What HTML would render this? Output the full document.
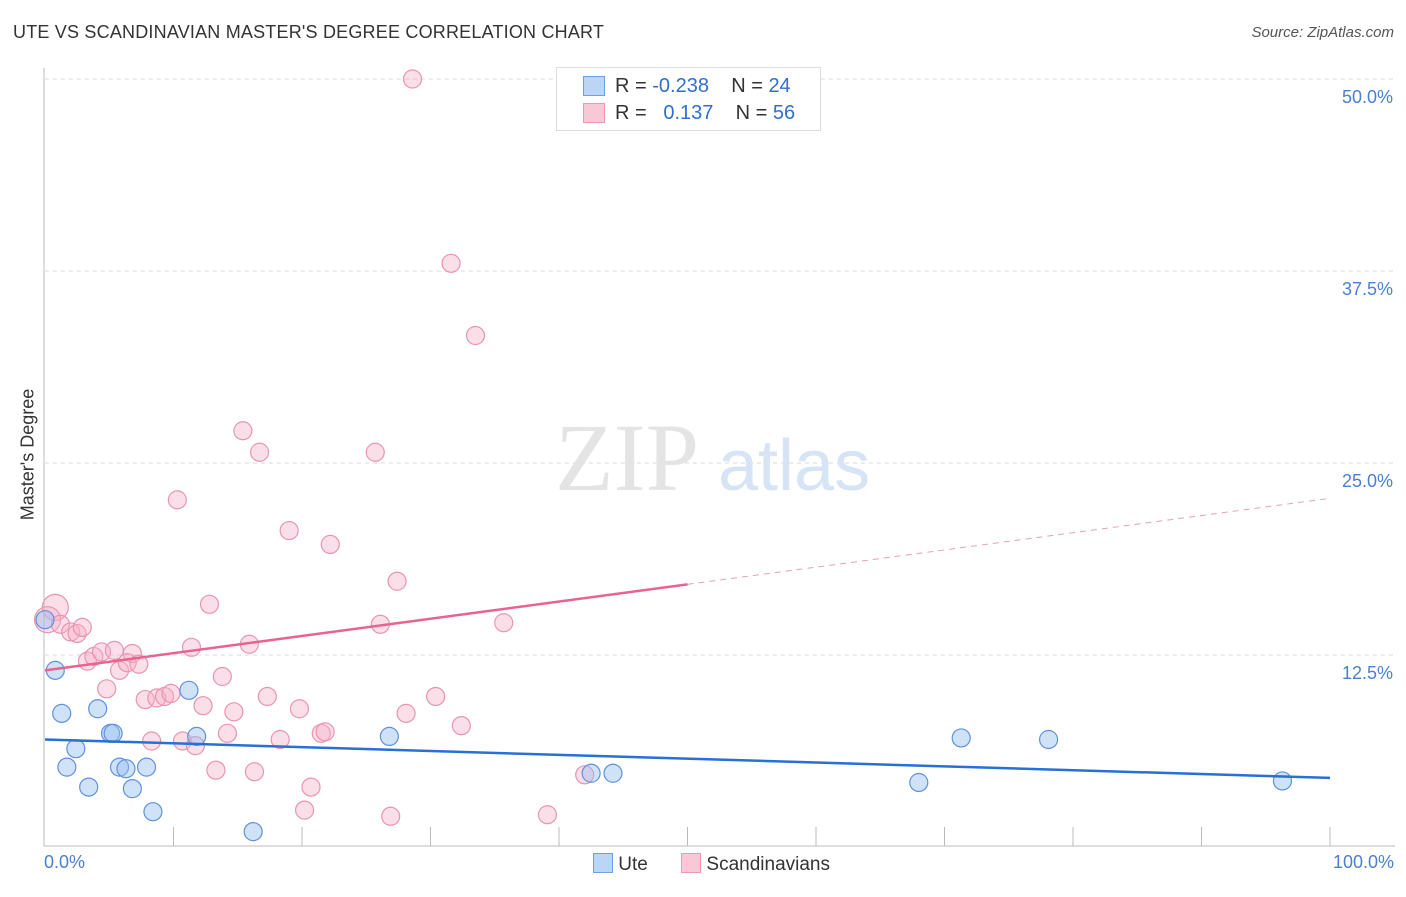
<!DOCTYPE html>
<html><head><meta charset="utf-8"><style>
body{margin:0;background:#fff;font-family:"Liberation Sans",sans-serif;}
</style></head><body>
<svg id="c" width="1406" height="892" xmlns="http://www.w3.org/2000/svg" font-family="Liberation Sans, sans-serif"></svg>
<script>
const uteX=[0,0.8,1.3,4.1,2.4,1.7,3.4,5.1,5.3,5.8,6.3,7.9,6.8,8.4,11.2,11.8,16.2,26.8,42.5,44.2,68.0,71.3,78.1,96.3];
const uteY=[14.8,11.5,8.7,9.0,6.4,5.2,3.9,7.4,7.4,5.2,5.1,5.2,3.8,2.3,10.2,7.2,1.0,7.2,4.8,4.8,4.2,7.1,7.0,4.3];
const scX=[28.6,31.6,33.5,15.4,16.7,25.7,10.3,19.0,22.2,27.4,0.8,12.8,0.2,1.2,2.0,2.5,2.9,26.1,35.7,3.3,3.8,4.4,5.4,6.8,5.8,6.4,7.3,11.4,15.9,4.8,13.8,7.8,8.7,9.3,9.8,17.3,12.3,14.7,19.8,30.4,28.1,32.4,8.3,10.7,11.7,14.2,18.3,21.5,21.8,13.3,16.3,20.7,20.2,26.9,39.1,42.0];
const scY=[50.0,38.0,33.3,27.1,25.7,25.7,22.6,20.6,19.7,17.3,15.6,15.8,14.8,14.5,14.0,13.9,14.3,14.5,14.6,12.1,12.4,12.7,12.8,12.6,11.5,12.0,11.9,13.0,13.2,10.3,11.1,9.6,9.7,9.8,10.0,9.8,9.2,8.8,9.0,9.8,8.7,7.9,6.9,6.9,6.6,7.4,7.0,7.4,7.5,5.0,4.9,3.9,2.4,2.0,2.1,4.7];
const yTicks=[12.5,25.0,37.5,50.0];
const uteTrend=[7.0,4.5];   // y at x=0 and x=100
const scTrend=[11.5,22.7];
const X=v=>45+v*12.85, Y=v=>847-v*15.36;
const svg=document.getElementById('c');
const NS='http://www.w3.org/2000/svg';
function mk(t,a,p){const e=document.createElementNS(NS,t);for(const k in a)e.setAttribute(k,a[k]);(p||svg).appendChild(e);return e;}
yTicks.forEach(t=>{
 const g=mk('line',{x1:45,x2:1395,y1:Y(t),y2:Y(t),stroke:'#d8d8d8','stroke-dasharray':'4,4'});
 
 
 const l=mk('text',{x:1393,y:Y(t)+24,'text-anchor':'end','font-size':18,fill:'#4a7fd4'});l.textContent=t.toFixed(1)+'%';
 
 
});
const ax=mk('line',{x1:44,x2:44,y1:68,y2:846,stroke:'#bbb'});


const bx=mk('line',{x1:44,x2:1395,y1:846,y2:846,stroke:'#bbb'});


for(let i=1;i<=10;i++){mk('line',{x1:X(i*10),x2:X(i*10),y1:827,y2:846,stroke:'#bbb'});}
const wm=mk('text',{x:555,y:490,'font-size':96,fill:'#e4e4e4','font-family':'Liberation Serif, serif'});wm.textContent='ZIP';


const wm2=mk('text',{x:718,y:490,'font-size':72,fill:'#d6e4f6'});wm2.textContent='atlas';
function pts(xs,ys,fill,stroke,name,allowBig){xs.forEach((x,i)=>{const big=allowBig&&(x<1&&ys[i]>14.5&&ys[i]<16);const c=mk('circle',{cx:X(x),cy:Y(ys[i]),r:big?13:9,fill:fill,stroke:stroke,'stroke-width':1.2});

});}
pts(scX,scY,'rgba(246,175,198,0.4)','#e994b0','scandinavian-point',true);
pts(uteX,uteY,'rgba(150,190,240,0.45)','#5d92dc','ute-point',false);
const yAt=(tr,x)=>tr[0]+(tr[1]-tr[0])*x/100;
const s1=mk('line',{x1:X(0),y1:Y(yAt(scTrend,0)),x2:X(50),y2:Y(yAt(scTrend,50)),stroke:'#e8638f','stroke-width':2.5});


const s2=mk('line',{x1:X(50),y1:Y(yAt(scTrend,50)),x2:X(100),y2:Y(yAt(scTrend,100)),stroke:'#e8a0b8','stroke-width':1,'stroke-dasharray':'6,5'});


const u1=mk('line',{x1:X(0),y1:Y(yAt(uteTrend,0)),x2:X(100),y2:Y(yAt(uteTrend,100)),stroke:'#2670d6','stroke-width':2.5});


</script>
<div style="position:absolute;left:13px;top:22px;font-size:18px;color:#333;letter-spacing:0.2px">UTE VS SCANDINAVIAN MASTER'S DEGREE CORRELATION CHART</div>
<div style="position:absolute;right:12px;top:24px;font-size:15px;color:#555;font-style:italic">Source: ZipAtlas.com</div>
<div style="position:absolute;left:-62px;top:444px;transform:rotate(-90deg);font-size:18px;color:#333;width:180px;text-align:center;white-space:nowrap">Master's Degree</div>
<div style="position:absolute;left:44px;top:852px;font-size:18px;color:#4a7fd4">0.0%</div>
<div style="position:absolute;right:12px;top:852px;font-size:18px;color:#4a7fd4">100.0%</div>
<div style="position:absolute;left:556px;top:67px;width:263px;height:62px;border:1px solid #ddd;background:#fff;font-size:20px;color:#333">
 <div style="position:absolute;left:26px;top:8px;width:20px;height:18px;background:#bcd5f5;border:1px solid #6f9fe0"></div>
 <div style="position:absolute;left:58px;top:7px">R = <span style="color:#2f6fd0">-0.238</span>&nbsp;&nbsp;&nbsp; N = <span style="color:#2f6fd0">24</span></div>
 <div style="position:absolute;left:26px;top:35px;width:20px;height:18px;background:#f9c8d7;border:1px solid #ea9ab4"></div>
 <div style="position:absolute;left:58px;top:34px">R = &nbsp;&nbsp;<span style="color:#2f6fd0">0.137</span>&nbsp;&nbsp;&nbsp; N = <span style="color:#2f6fd0">56</span></div>
</div>
<div style="position:absolute;left:593px;top:853px;font-size:19px;color:#333">
 <span style="display:inline-block;width:18px;height:18px;background:#bcd5f5;border:1px solid #6f9fe0;vertical-align:-3px"></span> Ute
 <span style="display:inline-block;width:18px;height:18px;background:#f9c8d7;border:1px solid #ea9ab4;vertical-align:-3px;margin-left:28px"></span> Scandinavians
</div>
</body></html>
